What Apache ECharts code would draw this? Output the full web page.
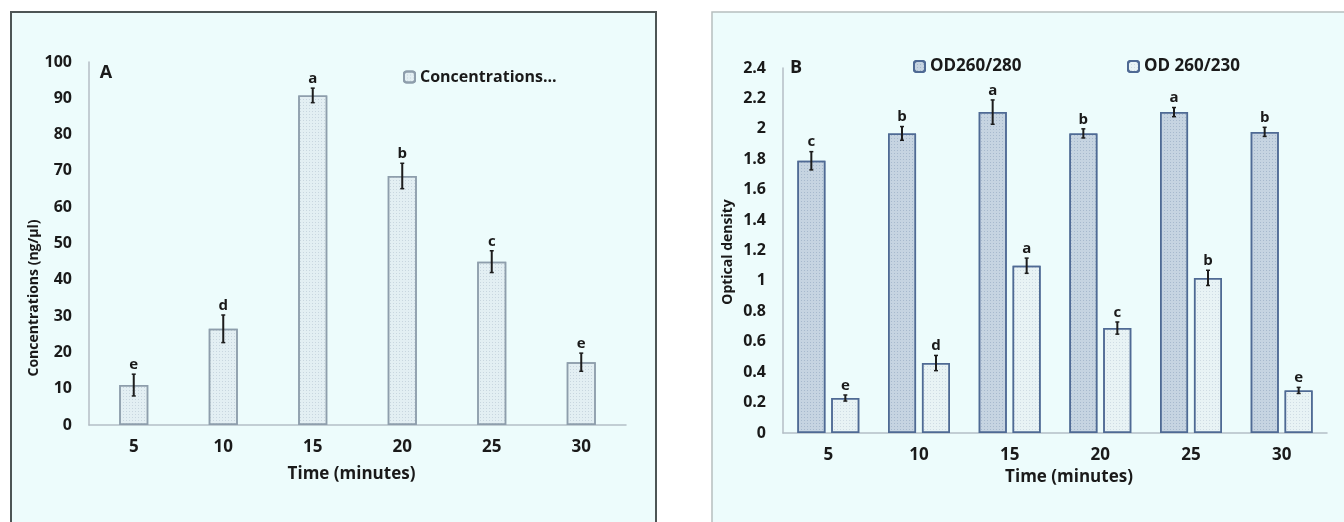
<!DOCTYPE html>
<html>
<head>
<meta charset="utf-8">
<script src="https://cdn.jsdelivr.net/npm/echarts@6/dist/echarts.min.js"></script>
<style>
  html, body { margin: 0; padding: 0; background: #ffffff; }
  #chart { width: 1344px; height: 522px; }
</style>
</head>
<body>
<div id="chart"></div>
<script>
// ---- Data ----
const categories = ['5', '10', '15', '20', '25', '30'];

// Panel A
const concValues = [11, 26.5, 90.8, 68.6, 45, 17.3];
const concErrors = [3, 3.8, 2, 3.5, 3, 2.5];
const concLetters = ['e', 'd', 'a', 'b', 'c', 'e'];

// Panel B
const od280Values = [1.79, 1.97, 2.11, 1.97, 2.11, 1.98];
const od280Errors = [0.06, 0.045, 0.08, 0.03, 0.03, 0.03];
const od280Letters = ['c', 'b', 'a', 'b', 'a', 'b'];

const od230Values = [0.23, 0.46, 1.10, 0.69, 1.02, 0.28];
const od230Errors = [0.02, 0.05, 0.05, 0.04, 0.05, 0.02];
const od230Letters = ['e', 'd', 'a', 'c', 'b', 'e'];

const yTicksA = { min: 0, max: 100, interval: 10 };
const yTicksB = { min: 0, max: 2.4, interval: 0.2 };

// ---- Styles ----
const FONT = 'Open Sans';
const bgPanel = '#edfcfc';

function errData(vals, errs, letters) {
  return vals.map((v, i) => [i, v, errs[i], letters[i]]);
}

function errRender(offset) {
  return function (params, api) {
    const i = api.value(0), v = api.value(1), e = api.value(2);
    const letter = api.value(3);
    const top = api.coord([i, v + e]);
    const bot = api.coord([i, v - e]);
    const x = top[0] + offset;
    const cap = 2;
    return {
      type: 'group',
      children: [
        { type: 'line', shape: { x1: x, y1: top[1], x2: x, y2: bot[1] }, style: { stroke: '#1d1d1d', lineWidth: 2 } },
        { type: 'line', shape: { x1: x - cap, y1: top[1], x2: x + cap, y2: top[1] }, style: { stroke: '#1d1d1d', lineWidth: 1.5 } },
        { type: 'line', shape: { x1: x - cap, y1: bot[1], x2: x + cap, y2: bot[1] }, style: { stroke: '#1d1d1d', lineWidth: 1.5 } },
        { type: 'text', x: x, y: top[1] - 2, style: { text: letter, fill: '#1a1a1a', font: 'bold 15px "' + FONT + '"', align: 'center', verticalAlign: 'bottom' } }
      ]
    };
  };
}

const axisLabelY = { color: '#1a1a1a', fontFamily: FONT, fontWeight: 'bold', fontSize: 16, margin: 17 };
const axisLabelX = { color: '#1a1a1a', fontFamily: FONT, fontWeight: 'bold', fontSize: 17, margin: 14 };
const axisLineStyle = { show: true, lineStyle: { color: '#b4bec6', width: 1.5 } };

const chart = echarts.init(document.getElementById('chart'), null, { renderer: 'canvas' });

const option = {
  backgroundColor: '#ffffff',
  animation: false,
  graphic: [
    { type: 'rect', z: -10, shape: { x: 11, y: 12, width: 645, height: 530 }, style: { fill: bgPanel, stroke: '#4d5555', lineWidth: 2 } },
    { type: 'rect', z: -10, shape: { x: 712, y: 12, width: 650, height: 530 }, style: { fill: bgPanel, stroke: '#b7bfbf', lineWidth: 1.5 } },
    { type: 'text', x: 106, y: 73, style: { text: 'A', font: 'bold 18px "' + FONT + '"', fill: '#1a1a1a', align: 'center', verticalAlign: 'middle' } },
    { type: 'text', x: 796, y: 68, style: { text: 'B', font: 'bold 18px "' + FONT + '"', fill: '#1a1a1a', align: 'center', verticalAlign: 'middle' } },
    { type: 'text', x: 34, y: 298, rotation: Math.PI / 2, style: { text: 'Concentrations (ng/µl)', font: 'bold 14px "' + FONT + '"', fill: '#1a1a1a', align: 'center', verticalAlign: 'middle' } },
    { type: 'text', x: 728, y: 252, rotation: Math.PI / 2, style: { text: 'Optical density', font: 'bold 14px "' + FONT + '"', fill: '#1a1a1a', align: 'center', verticalAlign: 'middle' } }
  ],
  legend: [
    { data: ['Concentrations...'], left: 398, top: 64, itemWidth: 11, itemHeight: 11, itemGap: 5,
      textStyle: { fontFamily: FONT, fontWeight: 'bold', fontSize: 16, color: '#1a1a1a' } },
    { data: ['OD260/280'], left: 908, top: 53, itemWidth: 11, itemHeight: 11,
      textStyle: { fontFamily: FONT, fontWeight: 'bold', fontSize: 17, color: '#1a1a1a' } },
    { data: ['OD 260/230'], left: 1122, top: 53, itemWidth: 11, itemHeight: 11,
      textStyle: { fontFamily: FONT, fontWeight: 'bold', fontSize: 17, color: '#1a1a1a' } }
  ],
  grid: [
    { left: 89, top: 62, width: 537, height: 363 },
    { left: 783, top: 68, width: 544, height: 365 }
  ],
  xAxis: [
    { type: 'category', gridIndex: 0, data: categories, axisTick: { show: false }, axisLine: axisLineStyle, axisLabel: axisLabelX,
      name: 'Time (minutes)', nameLocation: 'middle', nameGap: 41,
      nameTextStyle: { fontFamily: FONT, fontWeight: 'bold', fontSize: 17, color: '#1a1a1a', padding: [0, 12, 0, 0] } },
    { type: 'category', gridIndex: 1, data: categories, axisTick: { show: false }, axisLine: axisLineStyle, axisLabel: axisLabelX,
      name: 'Time (minutes)', nameLocation: 'middle', nameGap: 31,
      nameTextStyle: { fontFamily: FONT, fontWeight: 'bold', fontSize: 17, color: '#1a1a1a', padding: [0, 0, 0, 28] } }
  ],
  yAxis: [
    { type: 'value', gridIndex: 0, min: yTicksA.min, max: yTicksA.max, interval: yTicksA.interval,
      splitLine: { show: false }, axisTick: { show: false }, axisLine: axisLineStyle, axisLabel: axisLabelY },
    { type: 'value', gridIndex: 1, min: yTicksB.min, max: yTicksB.max, interval: yTicksB.interval,
      splitLine: { show: false }, axisTick: { show: false }, axisLine: axisLineStyle, axisLabel: axisLabelY }
  ],
  series: [
    { name: 'Concentrations...', type: 'bar', xAxisIndex: 0, yAxisIndex: 0, data: concValues, barWidth: 29,
      itemStyle: { color: '#e3eff3', borderColor: '#8e9eac', borderWidth: 1.5,
        decal: { symbol: 'rect', symbolSize: 1, dashArrayX: [1, 2], dashArrayY: [1, 2], color: 'rgba(150,170,185,0.35)' } } },
    { type: 'custom', xAxisIndex: 0, yAxisIndex: 0, renderItem: errRender(0), data: errData(concValues, concErrors, concLetters), z: 5 },

    { name: 'OD260/280', type: 'bar', xAxisIndex: 1, yAxisIndex: 1, data: od280Values, barWidth: 28, barGap: '21%',
      itemStyle: { color: '#c6d4e1', borderColor: '#4f6a94', borderWidth: 1.5,
        decal: { symbol: 'rect', symbolSize: 1, dashArrayX: [1, 2], dashArrayY: [1, 2], color: 'rgba(110,135,170,0.35)' } } },
    { name: 'OD 260/230', type: 'bar', xAxisIndex: 1, yAxisIndex: 1, data: od230Values, barWidth: 28, barGap: '21%',
      itemStyle: { color: '#e8f3f5', borderColor: '#4f6a94', borderWidth: 1.5,
        decal: { symbol: 'rect', symbolSize: 1, dashArrayX: [1, 2], dashArrayY: [1, 2], color: 'rgba(150,170,190,0.3)' } } },
    { type: 'custom', xAxisIndex: 1, yAxisIndex: 1, renderItem: errRender(-17), data: errData(od280Values, od280Errors, od280Letters), z: 5 },
    { type: 'custom', xAxisIndex: 1, yAxisIndex: 1, renderItem: errRender(17), data: errData(od230Values, od230Errors, od230Letters), z: 5 }
  ]
};

chart.setOption(option);
</script>
</body>
</html>
